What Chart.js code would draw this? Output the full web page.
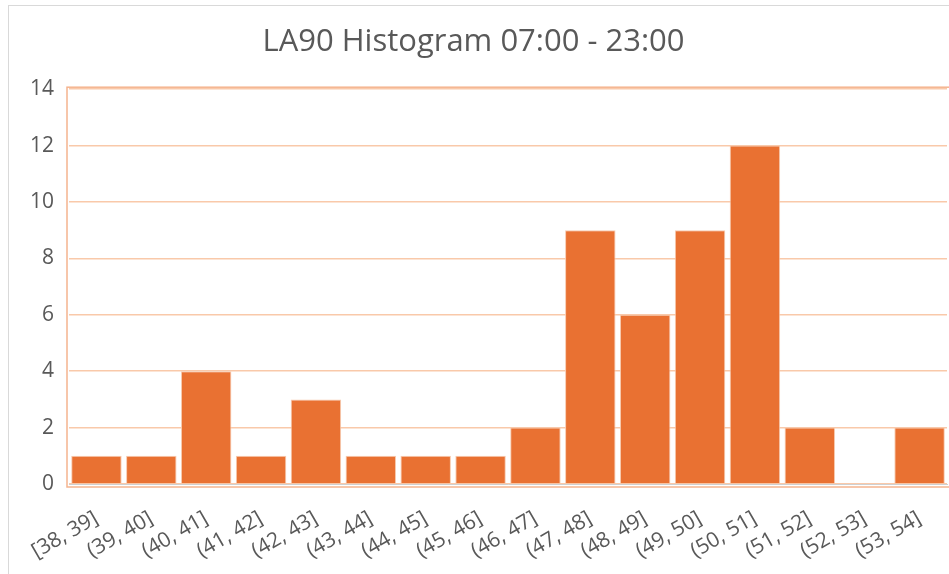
<!DOCTYPE html>
<html>
<head>
<meta charset="utf-8">
<script src="https://cdn.jsdelivr.net/npm/chart.js@4/dist/chart.umd.min.js"></script>
<style>
  html, body { margin: 0; padding: 0; background: #fff; overflow: hidden; }
  #frame { position: absolute; left: 8px; top: 5px; width: 1000px; height: 700px; border: 1px solid #d9d9d9; }
  #wrap { position: absolute; left: 0; top: 0; width: 949px; height: 574px; }
</style>
</head>
<body>
<div id="frame"></div>
<div id="wrap"><canvas id="histChart" width="949" height="574"></canvas></div>
<script>
// bins and counts
const bins = ['[38, 39]', '(39, 40]', '(40, 41]', '(41, 42]', '(42, 43]', '(43, 44]', '(44, 45]', '(45, 46]',
              '(46, 47]', '(47, 48]', '(48, 49]', '(49, 50]', '(50, 51]', '(51, 52]', '(52, 53]', '(53, 54]'];
const counts = [1, 1, 4, 1, 3, 1, 1, 1, 2, 9, 6, 9, 12, 2, 0, 2];
const yTicks = [0, 2, 4, 6, 8, 10, 12, 14];

const fontFam = "'Open Sans', 'Liberation Sans', sans-serif";

// orange frame round the plot area
const framePlugin = {
    id: 'plotFrame',
    afterDraw(chart) {
        const a = chart.chartArea;
        const c = chart.ctx;
        c.save();
        c.strokeStyle = '#f5b48e';
        c.lineWidth = 1.5;
        c.strokeRect(a.left - 2, a.top - 2, a.right - a.left + 6, a.bottom - a.top + 5);
        c.restore();
    }
};

const ctx = document.getElementById('histChart').getContext('2d');
const histChart = new Chart(ctx, {
    type: 'bar',
    data: {
        labels: bins,
        datasets: [{
            data: counts,
            backgroundColor: '#e97132',
            borderColor: '#f7cbb0',
            borderWidth: 1,
            barPercentage: 0.92,
            categoryPercentage: 1.0
        }]
    },
    options: {
        responsive: false,
        animation: false,
        layout: { padding: { top: 8, right: 2, left: 0, bottom: 0 } },
        plugins: {
            legend: { display: false },
            tooltip: { enabled: false },
            title: {
                display: true,
                text: 'LA90 Histogram 07:00 - 23:00',
                color: '#595959',
                font: { family: fontFam, size: 31, weight: 'normal' },
                padding: { top: 16, bottom: 28 }
            }
        },
        scales: {
            x: {
                grid: { display: false },
                border: { display: true, color: '#d0d0d0', width: 1 },
                ticks: {
                    color: '#595959',
                    font: { family: fontFam, size: 21 },
                    minRotation: 30,
                    maxRotation: 30,
                    autoSkip: false,
                    padding: 14
                },
                afterFit(scale) { scale.height = 90; }
            },
            y: {
                min: 0,
                max: 14,
                afterBuildTicks(scale) { scale.ticks = yTicks.map(v => ({ value: v })); },
                grid: { color: '#f9c9aa', lineWidth: 1.5, drawTicks: false },
                border: { display: false },
                ticks: {
                    color: '#595959',
                    font: { family: fontFam, size: 21 },
                    padding: 15
                },
                afterFit(scale) { scale.width = 69; }
            }
        }
    },
    plugins: [framePlugin]
});
</script>
</body>
</html>
